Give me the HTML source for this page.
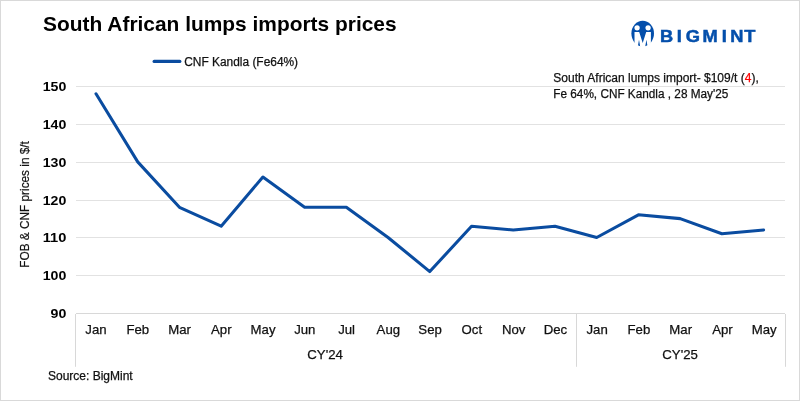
<!DOCTYPE html>
<html lang="en">
<head>
<meta charset="utf-8">
<title>South African lumps imports prices</title>
<style>
html,body{margin:0;padding:0;background:#fff;}
body{width:800px;height:401px;overflow:hidden;position:relative;font-family:"Liberation Sans",Arial,sans-serif;}
svg{position:absolute;left:0;top:0;display:block;}
text{font-family:"Liberation Sans",Arial,sans-serif;}
</style>
</head>
<body>
<svg width="800" height="401" viewBox="0 0 800 401">
<rect x="0" y="0" width="800" height="401" fill="#ffffff"/>
<rect x="0.5" y="0.5" width="799" height="400" fill="none" stroke="#d9d9d9" stroke-width="1"/>

<g stroke="#e2e2e2" stroke-width="1" fill="none">
<line x1="76" y1="86.5" x2="785" y2="86.5"/>
<line x1="76" y1="124.5" x2="785" y2="124.5"/>
<line x1="76" y1="162.5" x2="785" y2="162.5"/>
<line x1="76" y1="200.5" x2="785" y2="200.5"/>
<line x1="76" y1="237.5" x2="785" y2="237.5"/>
<line x1="76" y1="275.5" x2="785" y2="275.5"/>
</g>
<g stroke="#d8d8d8" stroke-width="1" fill="none">
<line x1="76" y1="313.5" x2="785" y2="313.5"/>
<line x1="75.5" y1="314" x2="75.5" y2="366.8"/>
<line x1="576.5" y1="314" x2="576.5" y2="366.8"/>
<line x1="785.5" y1="314" x2="785.5" y2="366.8"/>
</g>
<g font-size="13" font-weight="bold" fill="#000" text-anchor="end">
<text x="66.4" y="91.20" textLength="23.64" lengthAdjust="spacingAndGlyphs">150</text>
<text x="66.4" y="129.20" textLength="23.64" lengthAdjust="spacingAndGlyphs">140</text>
<text x="66.4" y="167.20" textLength="23.64" lengthAdjust="spacingAndGlyphs">130</text>
<text x="66.4" y="205.20" textLength="23.64" lengthAdjust="spacingAndGlyphs">120</text>
<text x="66.4" y="242.20" textLength="23.64" lengthAdjust="spacingAndGlyphs">110</text>
<text x="66.4" y="280.20" textLength="23.64" lengthAdjust="spacingAndGlyphs">100</text>
<text x="66.4" y="318.20" textLength="15.76" lengthAdjust="spacingAndGlyphs">90</text>
</g>
<g font-size="13.2" fill="#111111" stroke="#111111" stroke-width="0.25" text-anchor="middle">
<text x="95.98" y="334">Jan</text>
<text x="137.75" y="334">Feb</text>
<text x="179.51" y="334">Mar</text>
<text x="221.28" y="334">Apr</text>
<text x="263.04" y="334">May</text>
<text x="304.81" y="334">Jun</text>
<text x="346.57" y="334">Jul</text>
<text x="388.34" y="334">Aug</text>
<text x="430.10" y="334">Sep</text>
<text x="471.86" y="334">Oct</text>
<text x="513.63" y="334">Nov</text>
<text x="555.39" y="334">Dec</text>
<text x="597.16" y="334">Jan</text>
<text x="638.92" y="334">Feb</text>
<text x="680.69" y="334">Mar</text>
<text x="722.45" y="334">Apr</text>
<text x="764.22" y="334">May</text>
<text x="325.09" y="359">CY'24</text>
<text x="680.09" y="359">CY'25</text>
</g>
<polyline points="96.00,93.77 137.72,161.87 179.45,207.27 221.18,226.18 262.90,177.00 304.62,207.27 346.35,207.27 388.07,237.53 429.80,271.58 471.53,226.18 513.25,229.97 554.98,226.18 596.70,237.53 638.43,214.83 680.15,218.62 721.88,233.75 763.60,229.97" fill="none" stroke="#0a4ca0" stroke-width="3.05" stroke-linejoin="round" stroke-linecap="round"/>
<text x="43.1" y="31.3" font-size="21" font-weight="bold" fill="#000" textLength="353.5" lengthAdjust="spacingAndGlyphs">South African lumps imports prices</text>
<line x1="154.2" y1="61.4" x2="179.8" y2="61.4" stroke="#0a4ca0" stroke-width="3.3" stroke-linecap="round"/>
<text x="184.2" y="65.5" font-size="12" fill="#111111" stroke="#111111" stroke-width="0.25" textLength="113.9" lengthAdjust="spacingAndGlyphs">CNF Kandla (Fe64%)</text>
<text x="553.3" y="82" font-size="12" fill="#111111" stroke="#111111" stroke-width="0.25">South African lumps import- $109/t (<tspan fill="#ff0000" stroke="#ff0000">4</tspan>),</text>
<text x="553.3" y="98" font-size="12" fill="#111111" textLength="175" lengthAdjust="spacingAndGlyphs" stroke="#111111" stroke-width="0.25">Fe 64%, CNF Kandla , 28 May'25</text>
<text x="48" y="380" font-size="12" fill="#111111" stroke="#111111" stroke-width="0.25">Source: BigMint</text>
<text transform="translate(29.2,204.4) rotate(-90)" text-anchor="middle" font-size="12.4" textLength="126.5" lengthAdjust="spacingAndGlyphs" fill="#111111" stroke="#111111" stroke-width="0.2">FOB &amp; CNF prices in $/t</text>
<g>
<clipPath id="lg"><ellipse cx="642.7" cy="33.6" rx="11.9" ry="13.5"/></clipPath>
<ellipse cx="642.7" cy="33.6" rx="11.3" ry="12.8" fill="#044fab"/>
<g clip-path="url(#lg)" fill="#fff">
<circle cx="637.1" cy="27.8" r="2.65"/>
<circle cx="648.1" cy="27.8" r="2.65"/>
<polygon points="634.5,50 634.5,31.9 639.2,31.9 642.7,43 646.2,31.9 650.9,31.9 650.9,50 648.2,50 646.4,39.8 644.6,50 640.8,50 639.0,39.8 637.2,50"/>
</g>
<text transform="translate(0,41.85) scale(1.05,1)" x="628.65 644.47 653.20 669.13 687.42 695.51 708.84" font-size="17.4" font-weight="bold" fill="#044fab" stroke="#044fab" stroke-width="0.5">BIGMINT</text>
</g>
</svg>
</body>
</html>
